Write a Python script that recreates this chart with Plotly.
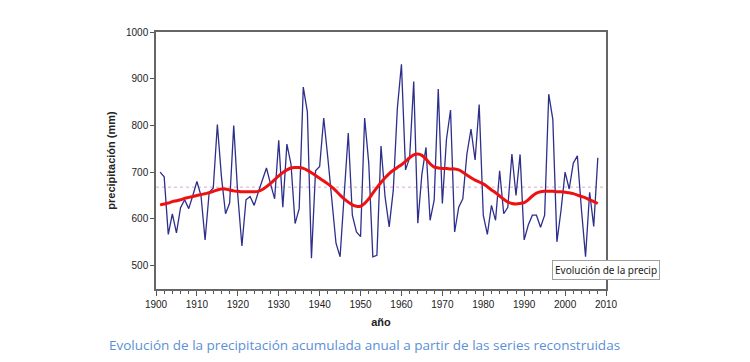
import plotly.graph_objects as go

years = list(range(1901, 2009))

precip = [
    700, 690, 567, 611, 570, 624, 641, 622, 650, 680,   # 1901-1910
    650, 555, 657, 666, 802, 690, 611, 634, 800, 650,   # 1911-1920
    542, 641, 648, 629, 657, 682, 709, 675, 643, 768,   # 1921-1930
    625, 760, 717, 590, 622, 882, 829, 516, 703, 712,   # 1931-1940
    816, 731, 647, 548, 519, 660, 784, 608, 572, 562,   # 1941-1950
    816, 720, 519, 522, 756, 647, 583, 661, 837, 931,   # 1951-1960
    705, 731, 894, 591, 696, 753, 597, 640, 878, 633,   # 1961-1970
    770, 833, 572, 625, 643, 739, 792, 726, 845, 608,   # 1971-1980
    567, 629, 597, 703, 611, 625, 739, 650, 738, 555,   # 1981-1990
    587, 608, 608, 582, 608, 867, 813, 551, 618, 700,   # 1991-2000
    664, 719, 735, 620, 519, 657, 584, 731,             # 2001-2008
]

trend = [
    630, 632, 634, 637, 639, 641, 644, 646, 648, 650,
    652, 654, 656, 659, 662, 664, 664, 662, 660, 659,
    658, 658, 658, 658, 659, 663, 669, 676, 684, 692,
    699, 705, 709, 710, 710, 708, 704, 699, 693, 687,
    681, 675, 668, 660, 651, 643, 636, 630, 627, 627,
    633, 643, 655, 667, 678, 688, 697, 704, 710, 716,
    723, 731, 737, 739, 736, 728, 718, 711, 709, 708,
    708, 707, 707, 705, 700, 694, 688, 683, 679, 675,
    669, 662, 656, 649, 642, 636, 633, 632, 633, 635,
    641, 649, 655, 658, 659, 659, 659, 658, 658, 657,
    656, 654, 651, 648, 645, 641, 637, 633,
]

mean_years = [1900, 2010]
mean_value = [668, 668]

x_tickvals = [1900, 1910, 1920, 1930, 1940, 1950, 1960, 1970, 1980, 1990, 2000, 2010]
y_tickvals = [500, 600, 700, 800, 900, 1000]

# page body has an 8px offset; plot area target (screen) x 156-606, y 32-289
OFF = 8
L, R, T, B = 156 - OFF, 606 - OFF, 32 - OFF, 289 - OFF
W, H = 750, 362
PW, PH = R - L, B - T

fig = go.Figure()
fig.add_trace(go.Scatter(x=mean_years, y=mean_value, mode="lines",
                         line=dict(color="#d9a6d9", width=1, dash="dot"),
                         hoverinfo="skip", showlegend=False))
fig.add_trace(go.Scatter(x=years, y=precip, mode="lines",
                         line=dict(color="#2e2f8a", width=1.3),
                         showlegend=False))
fig.add_trace(go.Scatter(x=years, y=trend, mode="lines", line_shape="spline",
                         line=dict(color="#ee1111", width=3),
                         showlegend=False))

axis_font = dict(family="Liberation Sans, Arial, sans-serif", size=10, color="#222222")

fig.update_xaxes(range=[1900, 2010], tickvals=x_tickvals, ticks="outside", ticklen=5,
                 tickcolor="#555555", showgrid=False, zeroline=False,
                 showline=True, linecolor="#666666", linewidth=1.5, mirror=True,
                 tickfont=axis_font,
                 minor=dict(dtick=2, ticks="outside", ticklen=3, tickcolor="#555555"),
                 title=dict(text="<b>año</b>", font=dict(family="Liberation Sans, Arial, sans-serif", size=11, color="#222222"), standoff=10))
fig.update_yaxes(range=[450, 1000], tickvals=y_tickvals, ticks="outside", ticklen=4,
                 tickcolor="#555555", showgrid=False, zeroline=False,
                 showline=True, linecolor="#666666", linewidth=1.5, mirror=True,
                 tickfont=axis_font,
                 title=dict(text="<b>precipitación (mm)</b>", font=dict(family="Liberation Sans, Arial, sans-serif", size=11, color="#222222"), standoff=8))

fig.update_layout(
    width=W, height=H,
    margin=dict(l=L, r=W - R, t=T, b=H - B),
    paper_bgcolor="white", plot_bgcolor="white",
    annotations=[
        dict(text="Evolución de la precipitación acumulada anual a partir de las series reconstruidas",
             xref="paper", yref="paper", x=(364 - OFF - L) / PW, y=-(345 - OFF - B) / PH,
             xanchor="center", yanchor="middle", showarrow=False,
             font=dict(family="Open Sans, sans-serif", size=13.5, color="#5b8fd8")),
        dict(text="Evolución de la precip",
             xref="paper", yref="paper", x=(552 - OFF - L) / PW, y=(B - (270 - OFF)) / PH,
             xanchor="left", yanchor="middle", showarrow=False,
             bgcolor="white", bordercolor="#a0a0a0", borderwidth=1, borderpad=2,
             font=dict(family="Noto Sans, sans-serif", size=10, color="#222222")),
    ],
)

fig.write_html("out.html")
